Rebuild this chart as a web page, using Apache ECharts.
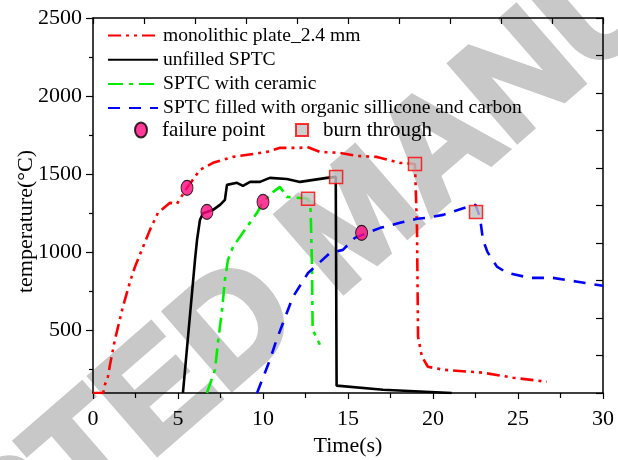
<!DOCTYPE html>
<html>
<head>
<meta charset="utf-8">
<script src="https://cdn.jsdelivr.net/npm/echarts@6/dist/echarts.min.js"></script>
<style>html,body{margin:0;padding:0;background:#fff;}#c{width:618px;height:460px;}</style>
</head>
<body>
<div id="c"></div>
<script>
// ---- data (time in s, temperature in °C) ----
const plateTime = [0, 0.6, 0.7, 0.88, 1.0, 1.29, 1.76, 2.18, 2.47, 3.35, 3.82, 4.53, 4.94, 5.53, 6.29, 7.06, 8.24, 10.24, 11.0, 12.18, 12.59, 13.35, 14.53, 15.53, 16.7, 18.06, 18.94, 19.06, 19.12, 19.35, 19.7, 20.6, 22.94, 24.7, 26.7];
const plateTemp = [100, 100, 153, 205, 281, 441, 652, 812, 908, 1144, 1253, 1317, 1311, 1413, 1528, 1573, 1611, 1643, 1669, 1669, 1675, 1643, 1637, 1617, 1611, 1573, 1566, 1144, 460, 332, 268, 249, 230, 198, 172];

const unfilledTime = [5.29, 6.0, 6.12, 6.29, 6.47, 6.7, 7.1, 7.47, 7.76, 7.88, 8.47, 8.82, 9.24, 9.82, 10.4, 11.4, 12.18, 13.76, 14.28, 14.33, 17.06, 21.1];
const unfilledTemp = [100, 952, 1080, 1207, 1250, 1259, 1275, 1304, 1336, 1432, 1445, 1426, 1451, 1451, 1477, 1470, 1451, 1477, 1483, 147, 121, 100];

const ceramicTime = [6.7, 7.18, 7.35, 7.59, 7.76, 7.94, 8.24, 9.06, 9.65, 10.0, 10.6, 11.0, 11.4, 12.65, 12.8, 12.88, 12.92, 13.35];
const ceramicTemp = [100, 250, 422, 631, 825, 952, 1036, 1164, 1253, 1323, 1387, 1419, 1355, 1343, 1272, 933, 505, 409];

const organicTime = [9.65, 10.41, 10.8, 11.76, 12.65, 13.94, 14.7, 15.4, 16.9, 18.06, 19.06, 19.65, 20.6, 22.0, 22.5, 22.76, 22.94, 23.2, 23.76, 24.35, 25.7, 27.06, 28.5, 30];
const organicTemp = [100, 313, 441, 715, 868, 996, 1016, 1093, 1157, 1189, 1215, 1221, 1240, 1291, 1304, 1227, 1080, 1003, 909, 869, 837, 837, 812, 786];

const failureTime = [5.53, 6.7, 10.0, 15.8];
const failureTemp = [1413, 1259, 1323, 1125];

const burnTime = [12.65, 14.3, 18.94, 22.53];
const burnTemp = [1343, 1483, 1566, 1259];

const seriesNames = ['monolithic plate_2.4 mm', 'unfilled SPTC', 'SPTC with ceramic', 'SPTC filled with organic sillicone and carbon'];
const markerNames = ['failure point', 'burn through'];
const watermarkText = 'ACCEPTED MANUSCRIPT';

const yMajorTicks = [500, 1000, 1500, 2000, 2500];
const yMinorTicks = [250, 750, 1250, 1750, 2250];

function zip(a, b) { return a.map((v, i) => [v, b[i]]); }

const FONT = '"Liberation Serif", "Times New Roman", serif';
const axisLine = { show: true, onZero: false, lineStyle: { color: '#000', width: 1.5 } };

const chart = echarts.init(document.getElementById('c'), null, { renderer: 'canvas' });
chart.setOption({
  animation: false,
  backgroundColor: '#fff',
  graphic: {
    z: -10,
    elements: [{
      type: 'text', x: 359, y: 224, z: -10,
      rotation: 41 * Math.PI / 180,
      silent: true,
      style: {
        text: watermarkText, fill: '#c8c8c8', stroke: '#c8c8c8', lineWidth: 6,
        fontFamily: '"Liberation Sans", Arial, sans-serif', fontWeight: 'bold', fontSize: 148,
        align: 'center', verticalAlign: 'middle'
      }
    }]
  },
  grid: { left: 93, right: 15, top: 18, bottom: 67, containLabel: false, outerBoundsMode: 'none' },
  legend: [
    {
      data: seriesNames,
      orient: 'vertical',
      left: 107, top: 25.5, padding: 0,
      itemWidth: 50, itemHeight: 14, itemGap: 4.2,
      itemStyle: { opacity: 0 },
      textStyle: { fontFamily: FONT, fontSize: 19.6, color: '#000' }
    },
    {
      data: [{ name: markerNames[0], icon: 'path://M6,0A6,7.5 0 1,1 6,15A6,7.5 0 1,1 6,0Z' }],
      orient: 'horizontal',
      left: 134, top: 119.5, padding: 0,
      itemWidth: 32, itemHeight: 15,
      textStyle: { fontFamily: FONT, fontSize: 21, color: '#000' }
    },
    {
      data: [{ name: markerNames[1], icon: 'path://M0,0H10V10H0Z' }],
      orient: 'horizontal',
      left: 295, top: 119.5, padding: 0,
      itemWidth: 32, itemHeight: 12,
      textStyle: { fontFamily: FONT, fontSize: 21, color: '#000' }
    }
  ],
  xAxis: [
    {
      type: 'value', position: 'bottom', min: 0, max: 30, interval: 5,
      name: 'Time(s)', nameLocation: 'middle', nameGap: 40,
      nameTextStyle: { fontFamily: FONT, fontSize: 22, color: '#000' },
      axisLine: axisLine,
      axisTick: { show: true, inside: false, length: 6, lineStyle: { color: '#000', width: 1.2 } },
      minorTick: { show: true, splitNumber: 2, length: 5, lineStyle: { color: '#000', width: 1.2 } },
      axisLabel: { fontFamily: FONT, fontSize: 22, color: '#000', margin: 15 },
      splitLine: { show: false }
    },
    {
      type: 'value', position: 'top', min: 0, max: 10, interval: 1,
      axisLine: axisLine,
      axisTick: { show: true, inside: true, length: 6, lineStyle: { color: '#000', width: 1.2 } },
      axisLabel: { show: false },
      splitLine: { show: false }
    }
  ],
  yAxis: [
    {
      type: 'value', position: 'left', min: 100, max: 2500,
      name: 'temperature(°C)', nameLocation: 'middle', nameGap: 56, nameMoveOverlap: false,
      nameTextStyle: { fontFamily: FONT, fontSize: 22, color: '#000', padding: [0, 32, 0, 0] },
      axisLine: axisLine,
      axisTick: { show: true, inside: false, length: 7, customValues: yMajorTicks, lineStyle: { color: '#000', width: 1.2 } },
      axisLabel: { fontFamily: FONT, fontSize: 22, color: '#000', margin: 11, customValues: yMajorTicks, formatter: v => String(v) },
      splitLine: { show: false }
    },
    {
      type: 'value', position: 'left', min: 100, max: 2500,
      axisLine: { show: false },
      axisTick: { show: true, inside: false, length: 4, customValues: yMinorTicks, lineStyle: { color: '#000', width: 1.2 } },
      axisLabel: { show: false },
      splitLine: { show: false }
    },
    {
      type: 'value', position: 'right', min: 0, max: 10, interval: 1,
      axisLine: axisLine,
      axisTick: { show: true, inside: true, length: 7, lineStyle: { color: '#000', width: 1.2 } },
      axisLabel: { show: false },
      splitLine: { show: false }
    }
  ],
  series: [
    {
      name: seriesNames[0], type: 'line', data: zip(plateTime, plateTemp),
      symbol: 'none', color: '#ff0000',
      lineStyle: { color: '#ff0000', width: 2.6, type: [13, 5, 3, 5, 3, 5] }
    },
    {
      name: seriesNames[1], type: 'line', data: zip(unfilledTime, unfilledTemp),
      symbol: 'none', color: '#000000',
      lineStyle: { color: '#000000', width: 2.6, type: 'solid' }
    },
    {
      name: seriesNames[2], type: 'line', data: zip(ceramicTime, ceramicTemp),
      symbol: 'none', color: '#00ff00',
      lineStyle: { color: '#00ee00', width: 2.6, type: [15, 6, 4, 6] }
    },
    {
      name: seriesNames[3], type: 'line', data: zip(organicTime, organicTemp),
      symbol: 'none', color: '#0000ff',
      lineStyle: { color: '#0000ff', width: 2.6, type: [12, 9] }
    },
    {
      name: markerNames[0], type: 'scatter', data: zip(failureTime, failureTemp),
      symbol: 'circle', symbolSize: [12, 15], z: 5,
      itemStyle: { color: '#ff0a80', borderColor: '#000', borderWidth: 1 }
    },
    {
      name: markerNames[1], type: 'scatter', data: zip(burnTime, burnTemp),
      symbol: 'rect', symbolSize: 13, z: 5,
      itemStyle: { color: '#c0c0c0', borderColor: '#ff0000', borderWidth: 1.5 }
    }
  ]
});
</script>
</body>
</html>
